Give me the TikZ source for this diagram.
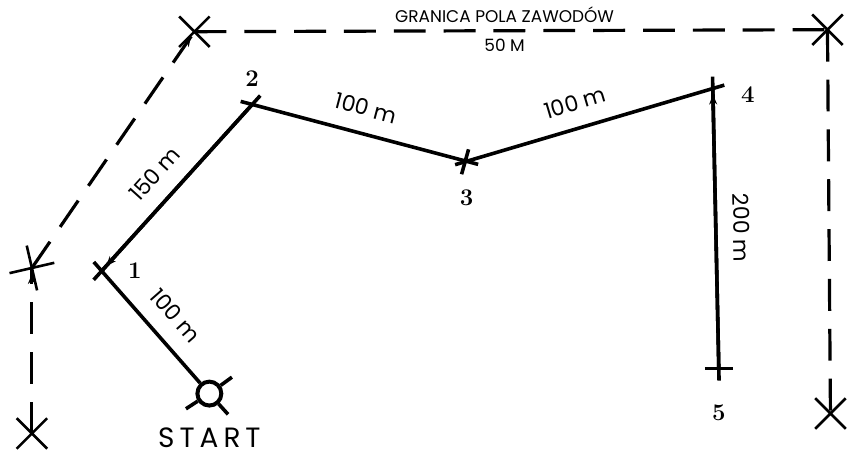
\documentclass[tikz,border=0pt]{standalone}
\usepackage{fontspec}
\usepackage{tikz}
\usetikzlibrary{arrows.meta,positioning,calc,shapes.misc,decorations.markings}
\newfontfamily\gothic{Poppins}
\newfontfamily\gothicwide[LetterSpace=18]{Poppins}

\begin{document}
\begin{tikzpicture}[
    x=0.5pt,y=-0.5pt,
    course/.style={line width=1.8pt},
    ext/.style={shorten <=-6pt,shorten >=-6pt},
    border/.style={line width=1.6pt,dash pattern=on 16pt off 9pt},
    stake/.style={cross out,draw,line width=1.3pt,minimum size=14pt,inner sep=0pt},
    num/.style={font=\bfseries\fontsize{12}{12}\selectfont,inner sep=0pt},
    dist/.style={font=\gothic\fontsize{11}{11}\selectfont,sloped,above,inner xsep=0pt,inner ysep=8pt},
    tip/.style={postaction={decorate,decoration={markings,mark=at position -3pt with {\arrow{Stealth[length=5pt,width=4pt]}}}}}
]
\fill[white] (0,0) rectangle (847,451);

% boundary of the field
\node[stake] (b1) at (32,433) {};
\node[stake,rotate=58,minimum size=15pt] (b2) at (32,267) {};
\node[stake] (b3) at (195,30) {};
\node[stake] (b4) at (830,28) {};
\node[stake] (b5) at (833,413) {};
\draw[border,tip] (b1.center) -- (b2.center);
\draw[border,tip] (b2.center) -- (b3.center);
\draw[border] (b3.center) -- node[pos=0.49,above,font=\gothic\fontsize{8.5}{8.5}\selectfont] {GRANICA POLA ZAWODÓW}
    node[pos=0.49,below,font=\gothic\fontsize{8.5}{8.5}\selectfont] {50 M} (b4.center);
\draw[border] (b4.center) -- (b5.center);

% course
\node[circle,draw,fill=white,line width=2pt,minimum size=12pt,inner sep=0pt] (s) at (210,393) {};
\coordinate (p1) at (102,270);
\coordinate (p2) at (253,103);
\coordinate (p3) at (468,160);
\coordinate (p4) at (715,87);
\coordinate (p5) at (721,368);

\draw[course,shorten >=-6pt] (s) -- node[dist,pos=0.45] {100 m} (p1);
\draw[course,ext] (p1) -- node[dist,pos=0.48] {150 m} (p2);
\draw[course,tip] (p2) -- (p1);
\draw[course,ext] (p2) -- node[dist,pos=0.5] {100 m} (p3);
\draw[course,ext] (p3) -- node[dist,pos=0.47] {100 m} (p4);
\draw[course,ext] (p4) -- node[dist,pos=0.5] {200 m} (p5);
\draw[course,tip] (p5) -- (p4);
\draw[course] ($(p3)+(2,-12)$) -- ($(p3)+(-5,13)$);
\draw[course] ($(p5)+(-14,0)$) -- ($(p5)+(14,0)$);
\foreach \a in {36,-48,-147}
    \draw[course] ($(s.center)+(\a:7pt)$) -- ($(s.center)+(\a:14pt)$);

\node[font=\gothicwide\fontsize{14}{14}\selectfont,inner sep=0pt,below=10pt of s] (start) {START};

\node[num,right=13pt of p1] (n1) {1};
\node[num,above=9pt of p2] (n2) {2};
\node[num,below=14pt of p3] (n3) {3};
\node[num,right=14pt of p4,yshift=-3pt] (n4) {4};
\node[num,below=18pt of p5] (n5) {5};
\end{tikzpicture}
\end{document}
